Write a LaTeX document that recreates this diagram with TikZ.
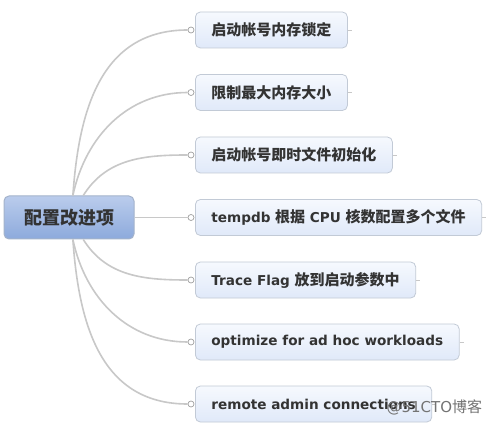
\documentclass[tikz,border=0pt]{standalone}
\usepackage{fontspec}
\setmainfont{DejaVu Sans}
\newfontfamily\cjk{Noto Sans CJK SC}
\definecolor{linegray}{HTML}{C8C8C8}
\definecolor{boxline}{HTML}{C2CAD6}
\definecolor{boxtop}{HTML}{F6F9FE}
\definecolor{boxbot}{HTML}{E0E9F9}
\definecolor{roottop}{HTML}{BACCEC}
\definecolor{rootbot}{HTML}{8DAADC}
\definecolor{rootline}{HTML}{A4B3CB}
\definecolor{txtgray}{HTML}{333333}
\tikzset{
  rootbox/.style={draw=rootline, line width=1pt, rounded corners=5pt,
    top color=roottop, bottom color=rootbot, minimum width=130, minimum height=43,
    font=\cjk\bfseries\fontsize{18}{20}\selectfont, text=black!80},
  itembox/.style={draw=boxline, line width=0.8pt, rounded corners=5pt,
    top color=boxtop, bottom color=boxbot, anchor=west, inner xsep=16,
    minimum height=36, font=\bfseries\fontsize{13.6}{15}\selectfont, text=txtgray},
  knob/.style={circle, draw=linegray!80!black, fill=white, line width=0.7pt,
    inner sep=0pt, minimum size=6},
  branch/.style={draw=linegray, line width=1.6pt},
}
\newcommand{\zh}[1]{{\cjk\fontsize{15}{15}\selectfont #1}}
\begin{document}
\begin{tikzpicture}[x=1pt, y=-1pt]
    \useasboundingbox[fill=white] (0, 0) rectangle (489, 427);
    \node[rootbox] (root) at (69, 217.5) {配置改进项};
    % branches
    \node[itembox] (b1) at (195, 30) {\zh{启动帐号内存锁定}};
    \node[itembox] (b2) at (195, 92.5) {\zh{限制最大内存大小}};
    \node[itembox] (b3) at (195, 155) {\zh{启动帐号即时文件初始化}};
    \node[itembox] (b4) at (195, 217.5) {tempdb \zh{根据} CPU \zh{核数配置多个文件}};
    \node[itembox] (b5) at (195, 280) {Trace Flag \zh{放到启动参数中}};
    \node[itembox] (b6) at (195, 342) {optimize for ad hoc workloads};
    \node[itembox] (b7) at (195, 404) {remote admin connections};
    \node[knob] (k1) at (191, 30) {};
    \node[knob] (k2) at (191, 92.5) {};
    \node[knob] (k3) at (191, 155) {};
    \node[knob] (k4) at (191, 217.5) {};
    \node[knob] (k5) at (191, 280) {};
    \node[knob] (k6) at (191, 342) {};
    \node[knob] (k7) at (191, 404) {};
    \draw[branch] (root.80) to[out=86, in=180, looseness=1.1] (k1.west);
    \draw[branch] (root.80) to[out=78, in=180] (k2.west);
    \draw[branch] (root.57) to[out=58, in=180] (k3.west);
    \draw[branch] (root.east) -- (k4.west);
    \draw[branch] (root.-57) to[out=-58, in=180] (k5.west);
    \draw[branch] (root.-80) to[out=-78, in=180] (k6.west);
    \draw[branch] (root.-80) to[out=-86, in=180, looseness=1.1] (k7.west);
    \foreach \b in {b1, b2, b3, b4, b5, b6, b7}
        \draw[linegray, line width=0.8pt] (\b.east) -- ++(4, 0);
    \node[text=black!55, font=\fontsize{15}{15}\selectfont, anchor=west] (mark) at (383, 407) {@51CTO\zh{博客}};
\end{tikzpicture}
\end{document}
